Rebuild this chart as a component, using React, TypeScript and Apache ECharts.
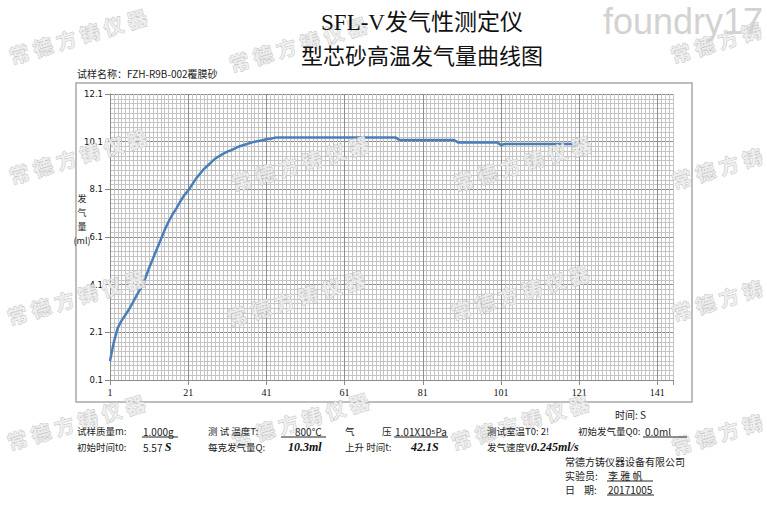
import React, { useEffect, useRef } from 'react';
import * as echarts from 'echarts';

const TITLE_LINE_1 = 'SFL-V发气性测定仪';
const TITLE_LINE_2 = '型芯砂高温发气量曲线图';
const SAMPLE_NAME = '试样名称：FZH-R9B-002覆膜砂';
const Y_NAME = '发\n气\n量\n(ml)';
const X_NAME = '时间: S';

// time (s)
const TIME_S = [
  1, 2, 3, 4, 5, 6, 7, 8, 9, 10, 11, 12, 13, 14, 15, 16, 17, 18, 19, 20,
  21, 22, 23, 24, 25, 26, 27, 28, 29, 30, 31, 32, 33, 34, 35, 36, 37, 38, 39, 40,
  41, 42, 43, 44, 45, 46, 47, 48, 49, 50, 51, 52, 53, 54, 55, 56, 57, 58, 59, 60,
  61, 62, 63, 64, 65, 66, 67, 68, 69, 70, 71, 72, 73, 74, 75, 76, 77, 78, 79, 80,
  81, 82, 83, 84, 85, 86, 87, 88, 89, 90, 91, 92, 93, 94, 95, 96, 97, 98, 99, 100,
  101, 102, 103, 104, 105, 106, 107, 108, 109, 110, 111, 112, 113, 114, 115, 116, 117, 118, 119, 120,
  121,
];

// gas volume (ml)
const GAS_ML = [
  0.9, 1.7, 2.3, 2.6, 2.85, 3.1, 3.4, 3.7, 4.0, 4.35, 4.8, 5.2, 5.6, 6.0, 6.4, 6.75, 7.05, 7.3, 7.6, 7.85,
  8.05, 8.3, 8.55, 8.75, 8.95, 9.1, 9.25, 9.4, 9.5, 9.6, 9.68, 9.74, 9.82, 9.9, 9.95, 10.0, 10.05, 10.1, 10.13, 10.16,
  10.2, 10.22, 10.26, 10.28, 10.28, 10.28, 10.28, 10.28, 10.28, 10.28, 10.28, 10.28, 10.28, 10.28, 10.28, 10.28, 10.28, 10.28, 10.28, 10.28,
  10.28, 10.28, 10.28, 10.28, 10.28, 10.28, 10.28, 10.28, 10.28, 10.28, 10.28, 10.28, 10.28, 10.28, 10.17, 10.17, 10.17, 10.17, 10.17, 10.17,
  10.17, 10.17, 10.17, 10.17, 10.17, 10.17, 10.17, 10.17, 10.17, 10.07, 10.07, 10.07, 10.07, 10.07, 10.07, 10.07, 10.07, 10.07, 10.07, 10.07,
  9.96, 10.0, 10.0, 10.0, 10.0, 10.0, 10.0, 10.0, 10.0, 10.0, 10.0, 10.0, 10.0, 10.0, 10.0, 10.0, 10.0, 10.0, 10.0, 10.0,
  10.0,
];

const X_MIN = 1;
const X_MAX = 145;
const X_MAJOR = 20;
const Y_MIN = 0.1;
const Y_MAX = 12.1;
const Y_MAJOR = 2;
const Y_MINOR = 0.2;

const WATERMARK = '常 德 方 铸 仪 器';
const WATERMARK_SHORT = '常 德 方 铸';
const WATERMARK_SPOTS = [
  [78, 36, WATERMARK], [298, 44, WATERMARK], [716, 42, WATERMARK_SHORT],
  [78, 156, WATERMARK], [300, 163, WATERMARK], [522, 163, WATERMARK], [717, 168, WATERMARK_SHORT],
  [76, 297, WATERMARK], [296, 298, WATERMARK], [520, 292, WATERMARK], [717, 300, WATERMARK_SHORT],
  [76, 422, WATERMARK], [300, 420, WATERMARK], [520, 422, WATERMARK], [717, 434, WATERMARK_SHORT],
];

const FONT_CN = '"Noto Sans CJK SC", sans-serif';

function txt(text: string, x: number, y: number, extra: any = {}) {
  return {
    type: 'text',
    x,
    y,
    z: 100,
    style: {
      text,
      fill: '#222',
      fontSize: 9.5,
      fontFamily: FONT_CN,
      verticalAlign: 'middle',
      align: 'left',
      ...extra,
    },
  };
}

function uline(x1: number, x2: number, y: number) {
  return {
    type: 'line',
    z: 100,
    shape: { x1, y1: y, x2, y2: y },
    style: { stroke: '#222', lineWidth: 1 },
  };
}

const BI = { fontWeight: 'bold', fontStyle: 'italic', fontFamily: '"Liberation Serif", serif', fontSize: 12, fill: '#111' };

export default function App() {
  const ref = useRef<HTMLDivElement>(null);

  useEffect(() => {
    if (!ref.current) return;
    const chart = echarts.init(ref.current, undefined, { renderer: 'svg' });

    const minorColorsX: string[] = [];
    for (let i = 0; i < X_MAJOR; i++) minorColorsX.push(i === 0 ? '#8c8c8c' : '#c4c4c4');
    const minorColorsY: string[] = [];
    const perMajor = Math.round(Y_MAJOR / Y_MINOR);
    for (let i = 0; i < perMajor; i++) minorColorsY.push(i === 0 ? '#8c8c8c' : '#c4c4c4');

    const data = TIME_S.map((t, i) => [t - X_MIN, +(GAS_ML[i] - Y_MIN).toFixed(3)]);

    const watermarks = WATERMARK_SPOTS.map(([x, y, text]) => ({
      type: 'text',
      x,
      y,
      rotation: 0.29,
      z: 90,
      silent: true,
      style: {
        text,
        fontSize: 20,
        fontWeight: 'bold',
        fontFamily: FONT_CN,
        fill: 'rgba(238,238,238,0.85)',
        stroke: '#b8b8b8',
        lineWidth: 0.7,
        align: 'center',
        verticalAlign: 'middle',
      },
    }));

    const graphic: any[] = [
      {
        type: 'rect',
        z: 1,
        shape: { x: 76, y: 83, width: 616, height: 319 },
        style: { fill: 'none', stroke: '#a8a8a8', lineWidth: 1.5 },
      },
      ...watermarks,
      {
        type: 'text',
        x: 603,
        y: 21,
        z: 95,
        style: {
          text: 'foundry17',
          fontSize: 36,
          fontFamily: '"Liberation Sans", sans-serif',
          fill: '#d2d2d2',
          verticalAlign: 'middle',
          align: 'left',
        },
      },
      txt(TITLE_LINE_1, 422, 22, { fontSize: 23, align: 'center', fontFamily: '"Liberation Serif", "Noto Sans CJK SC", serif', fill: '#111' }),
      txt(TITLE_LINE_2, 422, 54, { fontSize: 22, align: 'center', fill: '#111' }),
      txt(SAMPLE_NAME, 77, 73, { fontSize: 10 }),
      txt(Y_NAME, 82, 219, { fontSize: 9, align: 'center', lineHeight: 14 }),
      txt(X_NAME, 615, 414, { fontSize: 10 }),
      // row 1
      txt('试样质量m:', 77, 431),
      txt('1.000g', 143, 431, { fontSize: 10 }),
      uline(142, 178, 437),
      txt('测 试 温度T:', 208, 431),
      txt('800℃', 295, 431, { fontSize: 10 }),
      uline(281, 326, 437),
      txt('气', 345, 431),
      txt('压', 382, 431),
      txt('1.01X10⁵Pa', 395, 431, { fontSize: 10 }),
      uline(394, 448, 437),
      txt('测试室温T0: 2!', 487, 431),
      txt('初始发气量Q0:', 578, 431),
      txt('0.0ml', 645, 431, { fontSize: 10 }),
      uline(643, 687, 437),
      // row 2
      txt('初始时间t0:', 77, 447),
      txt('{a|5.57 }{b|S}', 143, 447, { rich: { a: { fontSize: 10, fontFamily: FONT_CN, fill: '#222' }, b: BI } }),
      txt('每克发气量Q:', 208, 447),
      txt('10.3ml', 288, 447, BI),
      txt('上升 时间t:', 345, 447),
      txt('42.1S', 411, 447, BI),
      txt('发气速度V:', 487, 447),
      txt('0.245ml/s', 531, 447, BI),
      // footer
      txt('常德方铸仪器设备有限公司', 565, 461, { fontSize: 10 }),
      txt('实验员:', 565, 475, { fontSize: 10 }),
      txt('李 雅 帆', 608, 475, { fontSize: 10 }),
      uline(607, 653, 481),
      txt('日    期:', 565, 489, { fontSize: 10 }),
      txt('20171005', 608, 489, { fontSize: 10 }),
      uline(607, 654, 495),
    ];

    const xSpan = X_MAX - X_MIN;
    const ySpan = Y_MAX - Y_MIN;

    chart.setOption({
      animation: false,
      backgroundColor: '#fff',
      grid: { left: 110, top: 94, width: 563, height: 286, containLabel: false },
      xAxis: [
        {
          type: 'value',
          min: 0,
          max: xSpan,
          interval: 1,
          axisLine: { show: false },
          axisTick: { show: false },
          axisLabel: { show: false },
          splitLine: { show: true, lineStyle: { color: minorColorsX, width: 1 } },
        },
        {
          type: 'value',
          position: 'bottom',
          min: 0,
          max: xSpan,
          interval: X_MAJOR,
          axisLine: { show: true, lineStyle: { color: '#8c8c8c' } },
          axisTick: { show: true, length: 5, lineStyle: { color: '#8c8c8c' } },
          axisLabel: {
            color: '#111',
            fontSize: 10,
            fontFamily: '"Liberation Serif", serif',
            margin: 7,
            formatter: (v: number) => (Math.round(v) % X_MAJOR === 0 ? String(Math.round(v) + X_MIN) : ''),
          },
          splitLine: { show: false },
        },
      ],
      yAxis: [
        {
          type: 'value',
          min: 0,
          max: ySpan,
          interval: Y_MINOR,
          axisLine: { show: false },
          axisTick: { show: false },
          axisLabel: { show: false },
          splitLine: { show: true, lineStyle: { color: minorColorsY, width: 1 } },
        },
        {
          type: 'value',
          position: 'left',
          min: 0,
          max: ySpan,
          interval: Y_MAJOR,
          axisLine: { show: true, lineStyle: { color: '#8c8c8c' } },
          axisTick: { show: true, length: 5, lineStyle: { color: '#8c8c8c' } },
          axisLabel: {
            color: '#111',
            fontSize: 8.5,
            fontFamily: '"DejaVu Sans", sans-serif',
            margin: 7,
            formatter: (v: number) => (v + Y_MIN).toFixed(1),
          },
          splitLine: { show: false },
        },
      ],
      series: [
        {
          type: 'line',
          xAxisIndex: 0,
          yAxisIndex: 0,
          data,
          showSymbol: false,
          symbol: 'none',
          lineStyle: { color: '#4a7ebb', width: 2.5 },
          z: 5,
        },
      ],
      graphic,
    });

    return () => chart.dispose();
  }, []);

  return (
    <div
      ref={ref}
      style={{ position: 'fixed', left: 0, top: 0, width: 767, height: 514, background: '#fff' }}
    />
  );
}
